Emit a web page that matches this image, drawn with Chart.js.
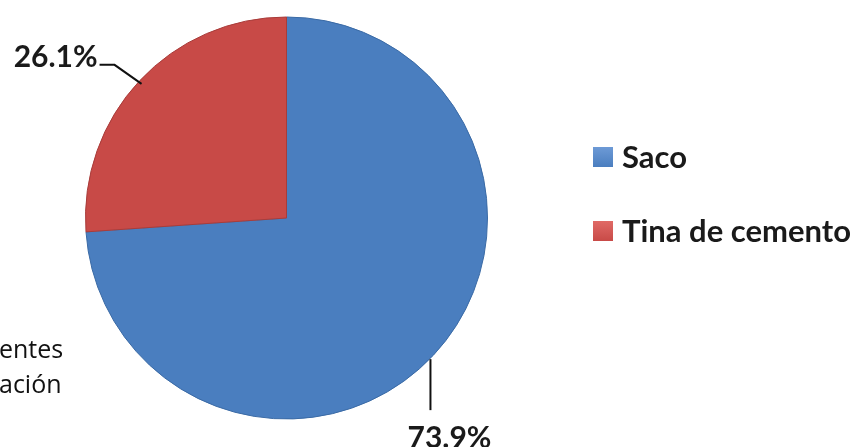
<!DOCTYPE html>
<html>
<head>
<meta charset="utf-8">
<script src="https://cdn.jsdelivr.net/npm/chart.js@4.4.0/dist/chart.umd.min.js"></script>
<style>
  html, body { margin: 0; padding: 0; background: #ffffff; }
  #wrap { position: relative; width: 855px; height: 447px; }
</style>
</head>
<body>
<div id="wrap"><canvas id="pie" width="855" height="447"></canvas></div>
<script>
/* ================= DATA ================= */

const categories = ["Saco", "Tina de cemento"];
const shares = [73.9, 26.1];
const shareLabels = ["73.9%", "26.1%"];
const sliceColors = ["#4a7ebf", "#c84a47"];
const sideText = ["entes", "ación"];

/* ================= PLUGIN: labels, leaders, legend ================= */

const decorPlugin = {
    id: "decor",
    afterDatasetsDraw(chart) {
        const ctx = chart.ctx;
        const arcs = chart.getDatasetMeta(0).data;

        ctx.save();
        ctx.strokeStyle = "#111";
        ctx.lineWidth = 2;
        ctx.fillStyle = "#1a1a1a";
        ctx.font = "bold 30px Lato";

        arcs.forEach((arc, i) => {
            const p = arc.getProps(["x", "y", "startAngle", "endAngle", "outerRadius"], true);
            const mid = (p.startAngle + p.endAngle) / 2;
            const ex = p.x + Math.cos(mid) * p.outerRadius;
            const ey = p.y + Math.sin(mid) * p.outerRadius;

            ctx.beginPath();
            if (i === 0) {
                ctx.moveTo(ex - 3, ey + 4);
                ctx.lineTo(ex - 3, ey + 55);
                ctx.stroke();
                ctx.textAlign = "center";
                ctx.textBaseline = "top";
                ctx.fillText(shareLabels[i], ex + 16, ey + 68);
            } else {
                ctx.moveTo(ex + 2, ey + 3);
                ctx.lineTo(ex - 25, ey - 16);
                ctx.lineTo(ex - 40, ey - 16);
                ctx.stroke();
                ctx.textAlign = "right";
                ctx.textBaseline = "alphabetic";
                ctx.fillText(shareLabels[i], ex - 42, ey - 14);
            }
        });

        // legend
        const lx = 593, ly = [157, 231];
        categories.forEach((c, i) => {
            const g = ctx.createLinearGradient(0, ly[i] - 10, 0, ly[i] + 10);
            g.addColorStop(0, i === 0 ? "#6d9ad6" : "#e06a66");
            g.addColorStop(1, sliceColors[i]);
            ctx.fillStyle = g;
            ctx.fillRect(lx, ly[i] - 10, 20, 20);
            ctx.fillStyle = "#1a1a1a";
            ctx.textAlign = "left";
            ctx.textBaseline = "middle";
            ctx.font = "bold 31px Lato";
            ctx.fillText(c, lx + 29, ly[i] + 1);
        });

        // clipped text from neighbouring figure
        ctx.font = "25px 'Open Sans'";
        ctx.fillStyle = "#111";
        ctx.textAlign = "left";
        ctx.textBaseline = "alphabetic";
        ctx.fillText(sideText[0], -1, 358);
        ctx.fillText(sideText[1], -1, 393);

        ctx.restore();
    }
};

/* ================= CHART ================= */

new Chart(document.getElementById("pie").getContext("2d"), {
    type: "pie",
    data: {
        labels: categories,
        datasets: [{
            data: shares,
            backgroundColor: sliceColors,
            borderColor: ["#3a6aa5", "#a83c3a"],
            borderWidth: 1
        }]
    },
    options: {
        responsive: false,
        animation: false,
        layout: { padding: { left: 85, right: 367, top: 16, bottom: 27 } },
        plugins: {
            legend: { display: false },
            tooltip: { enabled: false }
        }
    },
    plugins: [decorPlugin]
});
</script>
</body>
</html>
